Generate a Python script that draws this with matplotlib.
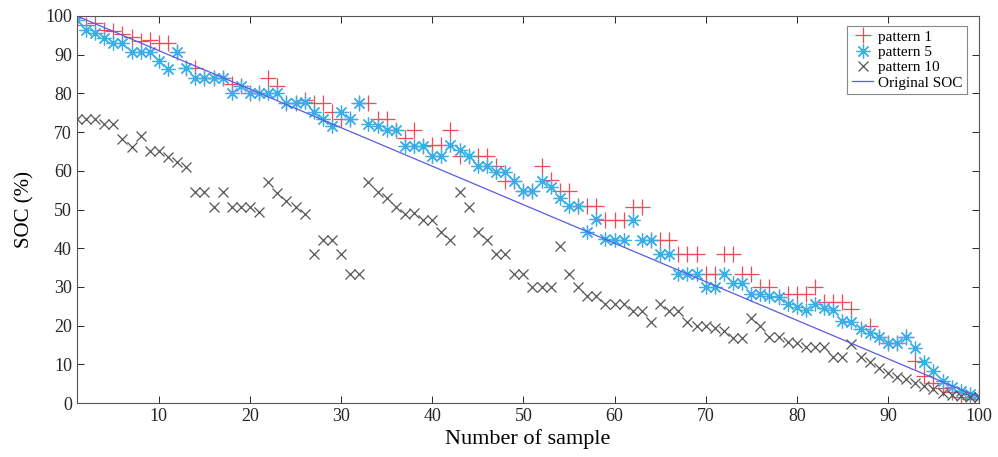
import numpy as np
import matplotlib
matplotlib.use('Agg')
import matplotlib.pyplot as plt

plt.rcParams['font.family'] = ['Liberation Serif', 'DejaVu Serif']

# sample index
samples = list(range(1, 101))

# pattern 1 (red +)
pattern1 = [100, 97.8, 98.2, 96.5, 96, 95.3, 94.7, 93.5, 93.7, 93,
            93, 90.6, 86.6, 86.5, 84, 84, 84, 82.5, 82, 80,
            80, 84, 81.8, 77.4, 77.5, 78.4, 77.4, 77.4, 75.1, 73.4,
            73.4, 77.4, 77.4, 73.4, 73.4, 70.6, 68.5, 70.6, 66.5, 66.7,
            66.8, 70.6, 63.9, 63.9, 63.9, 63.9, 61.3, 57.3, 57.3, 54.7,
            54.7, 61.3, 57.7, 54.7, 54.7, 50.8, 50.8, 50.8, 47.4, 47.4,
            47.4, 50.6, 50.6, 42.2, 42.2, 42.2, 38.6, 38.6, 38.6, 33.4,
            33.4, 38.6, 38.6, 33.4, 33.4, 29.9, 29.9, 27.3, 28.2, 28.2,
            28.2, 30.1, 26.2, 26.2, 26.2, 24.3, 19.2, 19.9, 17, 15.5,
            15.5, 17, 10.8, 7, 5.2, 3.8, 2.8, 1.5, 1, 1.5]

# pattern 5 (blue *)
pattern5 = [99, 96.5, 95.5, 94.4, 92.9, 92.9, 90.6, 90.6, 90.6, 88.3,
            86.3, 90.6, 86.6, 84, 84, 84, 84, 80, 81.8, 80,
            80, 80, 80, 77.4, 77.5, 77.7, 75.1, 73.4, 71.7, 75.1,
            73.4, 77.4, 72.2, 71.7, 70.6, 70.6, 66.5, 66.5, 66.5, 63.9,
            63.9, 66.8, 65.3, 63.9, 61.3, 61.3, 59.6, 59.6, 57.3, 54.7,
            54.7, 57.3, 55.8, 53, 50.8, 50.8, 44.3, 47.5, 42.3, 42.2,
            42.2, 47.3, 42.2, 42.2, 38.6, 38.6, 33.4, 33.4, 33.4, 29.9,
            29.9, 33.4, 31.1, 31.1, 28.2, 28.2, 27.7, 27.3, 25.6, 24.8,
            24.1, 25.6, 24.5, 24.1, 21.2, 21, 19.2, 18.2, 17, 15.5,
            15.5, 17, 14.1, 10.5, 8.2, 5.6, 4.2, 3.2, 2.3, 1.6]

# pattern 10 (gray x)
pattern10 = [73.5, 73.5, 73.5, 72, 72, 68.3, 66.2, 69, 65, 65,
             63.7, 62.4, 61, 54.6, 54.6, 50.7, 54.6, 50.7, 50.7, 50.7,
             49.3, 57.2, 54.4, 52.3, 50.7, 48.9, 38.5, 42.2, 42.2, 38.5,
             33.4, 33.4, 57.2, 54.6, 53, 50.7, 48.9, 49.2, 47.3, 47.3,
             44.2, 42.2, 54.6, 50.7, 44.2, 42.2, 38.5, 38.5, 33.4, 33.4,
             30, 30, 30, 40.6, 33.4, 30, 27.7, 27.7, 25.6, 25.6,
             25.6, 23.8, 23.8, 21, 25.6, 23.8, 23.8, 21, 20, 20,
             19.5, 18.7, 16.8, 16.8, 22, 20, 17, 17, 15.8, 15.5,
             14.5, 14.5, 14.5, 12, 12, 15.3, 12, 10.6, 9, 7.8,
             6.8, 6.2, 5.2, 4.4, 3.6, 2.7, 2.2, 1.8, 1.5, 1.5]

# original SOC, straight line
orig_x = [1, 100]
orig_soc = [100, 1.5]

fig = plt.figure(figsize=(9.98, 4.57), dpi=100)
ax = fig.add_axes([0.077, 0.118, 0.904, 0.847])

ax.plot(samples, pattern1, linestyle='none', marker='+', markersize=12,
        markeredgewidth=0.9, color='#f04a55', label='pattern 1')
ax.plot(samples, pattern5, linestyle='none', marker=(8, 2, 0), markersize=10,
        markeredgewidth=0.9, color='#3aaee8', label='pattern 5')
ax.plot(samples, pattern10, linestyle='none', marker='x', markersize=7,
        markeredgewidth=0.9, color='#555555', label='pattern 10')
ax.plot(orig_x, orig_soc, color='#5a5ae6', linewidth=0.9, label='Original SOC')

ax.set_xlim(1, 100)
ax.set_ylim(0, 100)
ax.set_xticks(range(10, 101, 10))
ax.set_yticks(range(0, 101, 10))
ax.tick_params(direction='in', top=True, right=True, labelsize=13,
               colors='#262626', length=5, width=0.7)
for s in ax.spines.values():
    s.set_color('#555555')
    s.set_linewidth(0.8)

ax.set_xlabel('Number of sample', fontsize=16, labelpad=3)
ax.set_ylabel('SOC (%)', fontsize=15, labelpad=8)

leg = ax.legend(loc='upper right', fontsize=11, labelspacing=0.1,
                handlelength=1.4, handletextpad=0.3, borderpad=0.3,
                fancybox=False, framealpha=1, bbox_to_anchor=(0.995, 0.995))
leg.get_frame().set_edgecolor('#888888')
leg.get_frame().set_linewidth(0.8)

fig.savefig('out.png', dpi=100)
